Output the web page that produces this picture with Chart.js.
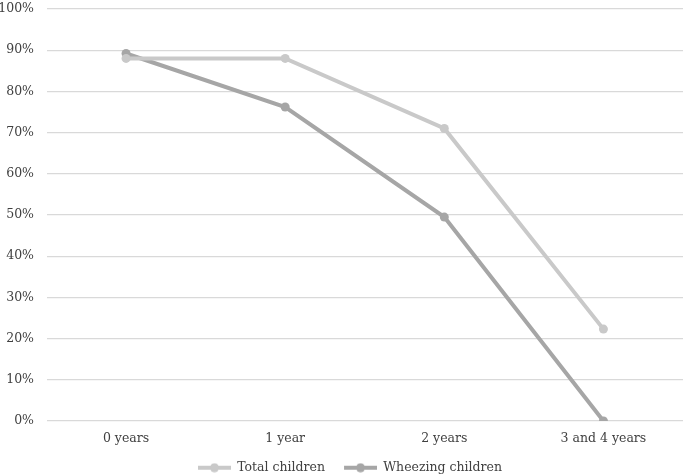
<!DOCTYPE html>
<html>
<head>
<meta charset="utf-8">
<script src="https://cdn.jsdelivr.net/npm/chart.js@4"></script>
<style>
  html, body { margin: 0; padding: 0; background: #fff; }
  #wrap { width: 685px; height: 476px; position: relative; }
</style>
</head>
<body>
<div id="wrap"><canvas id="myChart"></canvas></div>
<script>
const categories = ['0 years', '1 year', '2 years', '3 and 4 years'];
const totalChildren = [88, 88, 71, 22.3];
const wheezingChildren = [89.2, 76.2, 49.5, 0];
const yTicks = [0, 10, 20, 30, 40, 50, 60, 70, 80, 90, 100];
const seriesColors = ['#c9c9c9', '#a6a6a6'];

Chart.defaults.font.family = '"DejaVu Serif", serif';
Chart.defaults.font.size = 12.5;
Chart.defaults.color = '#404040';

// legend marker: short line with a dot, after a blank lead-in that spaces the items
function legendMarker(color) {
    const c = document.createElement('canvas');
    c.width = 50;
    c.height = 10;
    const g = c.getContext('2d');
    g.strokeStyle = color;
    g.lineWidth = 4;
    g.beginPath();
    g.moveTo(17, 5);
    g.lineTo(50, 5);
    g.stroke();
    g.fillStyle = color;
    g.beginPath();
    g.arc(33.5, 5, 4.5, 0, Math.PI * 2);
    g.fill();
    return c;
}

const ctx = document.getElementById('myChart').getContext('2d');
const myChart = new Chart(ctx, {
    type: 'line',
    data: {
        labels: categories,
        datasets: [
            {
                label: 'Total children',
                data: totalChildren,
                borderColor: seriesColors[0],
                backgroundColor: seriesColors[0],
                borderWidth: 4,
                pointRadius: 4.5,
                pointBorderWidth: 0,
                fill: false,
                tension: 0
            },
            {
                label: 'Wheezing children',
                data: wheezingChildren,
                borderColor: seriesColors[1],
                backgroundColor: seriesColors[1],
                borderWidth: 4,
                pointRadius: 4.5,
                pointBorderWidth: 0,
                fill: false,
                tension: 0
            }
        ]
    },
    options: {
        responsive: true,
        maintainAspectRatio: false,
        animation: false,
        layout: {
            autoPadding: false,
            padding: { top: 0, right: 2, left: 0, bottom: -8 }
        },
        plugins: {
            legend: {
                position: 'bottom',
                labels: {
                    usePointStyle: true,
                    pointStyleWidth: 50,
                    padding: 2,
                    generateLabels: (chart) => {
                        const items = Chart.defaults.plugins.legend.labels.generateLabels(chart);
                        items.forEach((it, i) => { it.pointStyle = legendMarker(seriesColors[i]); });
                        return items;
                    }
                }
            },
            tooltip: { enabled: false }
        },
        scales: {
            x: {
                offset: true,
                grid: { display: false, drawTicks: false },
                border: { display: false },
                ticks: { padding: 10 },
                afterFit: (s) => {
                    s.height = 38.5;
                    s.paddingLeft = 0;
                    s.paddingRight = 0;
                }
            },
            y: {
                min: 0,
                max: 100,
                afterBuildTicks: (axis) => {
                    axis.ticks = yTicks.map(v => ({ value: v }));
                },
                grid: { color: '#d9d9d9', lineWidth: 1.3, drawTicks: false },
                border: { display: false },
                ticks: {
                    padding: 12.5,
                    callback: (v) => v + '%'
                },
                afterFit: (s) => {
                    s.width = 46.5;
                    s.paddingTop = 9;
                    s.paddingBottom = 0;
                }
            }
        }
    }
});
</script>
</body>
</html>
